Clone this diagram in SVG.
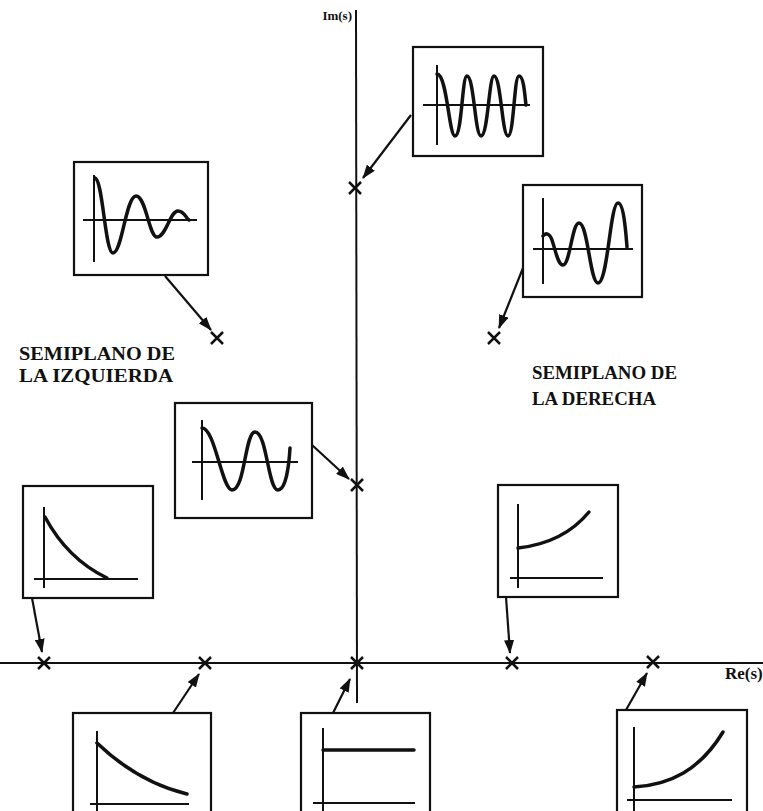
<svg xmlns="http://www.w3.org/2000/svg" width="763" height="811" viewBox="0 0 763 811">
<style>
.ax{stroke:#111;stroke-width:2;fill:none}
.box{stroke:#111;stroke-width:2.2;fill:#fff}
.iax{stroke:#111;stroke-width:2;fill:none}
.crv{stroke:#111;stroke-width:3.5;fill:none;stroke-linecap:round}
.arr{stroke:#111;stroke-width:2.2;fill:none;marker-end:url(#ah)}
.x{stroke:#111;stroke-width:2.5;fill:none}
.lbl{font-family:"Liberation Serif",serif;font-weight:bold;fill:#111}
</style>
<defs>
<marker id="ah" markerUnits="userSpaceOnUse" markerWidth="14" markerHeight="10" refX="13" refY="5" orient="auto">
<path d="M0,0 L14,5 L0,10 Z" fill="#111"/>
</marker>
<path id="cross" d="M-6,-6 L6,6 M-6,6 L6,-6"/>
</defs>
<rect width="763" height="811" fill="#fff"/>
<g id="axes">
<line class="ax" x1="356" y1="10" x2="357" y2="703"/>
<line class="ax" x1="0" y1="663" x2="763" y2="663"/>
<text class="lbl" x="352" y="20" font-size="13" text-anchor="end">Im(s)</text>
<text class="lbl" x="725" y="679" font-size="17">Re(s)</text>
</g>
<g id="labels">
<text class="lbl" x="19" y="360" font-size="19" textLength="156" lengthAdjust="spacingAndGlyphs">SEMIPLANO DE</text>
<text class="lbl" x="19" y="382" font-size="19" textLength="154" lengthAdjust="spacingAndGlyphs">LA IZQUIERDA</text>
<text class="lbl" x="532" y="379" font-size="18" textLength="145" lengthAdjust="spacingAndGlyphs">SEMIPLANO DE</text>
<text class="lbl" x="532" y="405" font-size="18" textLength="124" lengthAdjust="spacingAndGlyphs">LA DERECHA</text>
</g>
<g id="poles" class="x">
<use href="#cross" x="355" y="188"/>
<use href="#cross" x="217" y="338"/>
<use href="#cross" x="494" y="338"/>
<use href="#cross" x="357" y="485"/>
<use href="#cross" x="44" y="663"/>
<use href="#cross" x="205" y="663"/>
<use href="#cross" x="357" y="663"/>
<use href="#cross" x="512" y="663"/>
<use href="#cross" x="653" y="662"/>
</g>
<g id="connectors">
<line class="arr" x1="411" y1="115" x2="363" y2="178"/>
<line class="arr" x1="165" y1="276" x2="211" y2="330"/>
<line class="arr" x1="523" y1="268" x2="499" y2="328"/>
<line class="arr" x1="312" y1="445" x2="349" y2="479"/>
<line class="arr" x1="32" y1="598" x2="42" y2="652"/>
<line class="arr" x1="506" y1="597" x2="510" y2="653"/>
<line class="arr" x1="173" y1="713" x2="199" y2="674"/>
<line class="arr" x1="333" y1="713" x2="350" y2="679"/>
<line class="arr" x1="626" y1="710" x2="647" y2="673"/>
</g>
<g id="box-im-high">
<rect class="box" x="413" y="47" width="130" height="109"/>
<line class="iax" x1="437" y1="65" x2="437" y2="145"/>
<line class="iax" x1="423" y1="105" x2="530" y2="105"/>
<path class="crv" d="M437,74 C447,74 449,136 455,136 C462,136 462,76 467,76 C474,76 475,136 481,136 C488,136 489,76 494,76 C501,76 502,136 508,136 C514,136 514,76 519,76 C524,76 525,98 526,105"/>
</g>
<g id="box-left-upper">
<rect class="box" x="74" y="162" width="134" height="113"/>
<line class="iax" x1="94" y1="175" x2="94" y2="262"/>
<line class="iax" x1="83" y1="220" x2="197" y2="220"/>
<path class="crv" d="M95,178 C103,180 105,253 113,253 C122,253 126,196 136,196 C146,196 149,237 157,237 C166,237 170,211 178,211 C184,211 186,218 189,220"/>
</g>
<g id="box-right-upper">
<rect class="box" x="523" y="185" width="119" height="112"/>
<line class="iax" x1="543" y1="198" x2="543" y2="284"/>
<line class="iax" x1="533" y1="249" x2="633" y2="249"/>
<path class="crv" d="M543,236 C546,232 550,234 552,240 C556,252 558,265 563,265 C570,265 572,223 579,223 C588,223 590,283 598,283 C608,283 610,203 618,203 C624,203 626,235 627,247"/>
</g>
<g id="box-im-low">
<rect class="box" x="175" y="403" width="137" height="115"/>
<line class="iax" x1="202" y1="420" x2="202" y2="500"/>
<line class="iax" x1="192" y1="462" x2="298" y2="462"/>
<path class="crv" d="M202,428 C215,428 222,490 232,490 C245,490 245,432 255,432 C267,432 268,490 278,490 C286,490 289,465 290,448"/>
</g>
<g id="box-left-lower">
<rect class="box" x="23" y="486" width="130" height="112"/>
<line class="iax" x1="44" y1="507" x2="44" y2="588"/>
<line class="iax" x1="34" y1="579" x2="138" y2="579"/>
<path class="crv" d="M45,517 C60,545 80,565 107,578"/>
</g>
<g id="box-right-lower">
<rect class="box" x="498" y="485" width="120" height="112"/>
<line class="iax" x1="518" y1="504" x2="518" y2="588"/>
<line class="iax" x1="510" y1="578" x2="603" y2="578"/>
<path class="crv" d="M518,548 C545,545 570,535 589,512"/>
</g>
<g id="box-bottom-left">
<rect class="box" x="73" y="713" width="138" height="110"/>
<line class="iax" x1="97" y1="731" x2="97" y2="815"/>
<line class="iax" x1="90" y1="804" x2="189" y2="804"/>
<path class="crv" d="M97,743 C120,765 150,785 187,794"/>
</g>
<g id="box-bottom-origin">
<rect class="box" x="301" y="713" width="129" height="110"/>
<line class="iax" x1="323" y1="728" x2="323" y2="815"/>
<line class="iax" x1="313" y1="803" x2="415" y2="803"/>
<path class="crv" d="M323,750 L414,750"/>
</g>
<g id="box-bottom-right">
<rect class="box" x="617" y="710" width="130" height="113"/>
<line class="iax" x1="634" y1="727" x2="634" y2="815"/>
<line class="iax" x1="627" y1="800" x2="732" y2="800"/>
<path class="crv" d="M634,787 C670,785 700,770 723,732"/>
</g>
</svg>
